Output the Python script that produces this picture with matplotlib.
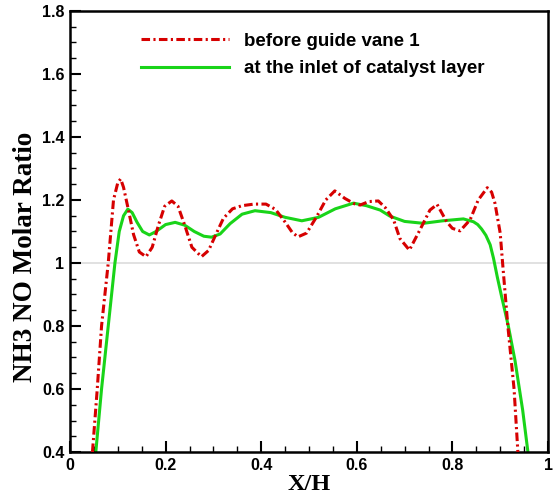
import matplotlib
matplotlib.use("Agg")
import matplotlib.pyplot as plt
from matplotlib.ticker import MultipleLocator, FormatStrFormatter

# values
x_before = [0.047, 0.057, 0.066, 0.080, 0.091, 0.100, 0.106, 0.112, 0.122, 0.133,
            0.145, 0.159, 0.172, 0.185, 0.198, 0.213, 0.226, 0.240, 0.255, 0.275,
            0.290, 0.305, 0.321, 0.340, 0.360, 0.385, 0.410, 0.430, 0.450, 0.465,
            0.477, 0.495, 0.516, 0.535, 0.554, 0.575, 0.595, 0.607, 0.625, 0.645,
            0.660, 0.677, 0.690, 0.710, 0.732, 0.753, 0.768, 0.788, 0.800, 0.816,
            0.837, 0.854, 0.873, 0.882, 0.889, 0.900, 0.905, 0.916, 0.929, 0.937]
y_before = [0.40, 0.60, 0.80, 1.00, 1.20, 1.255, 1.267, 1.24, 1.17, 1.09,
            1.035, 1.02, 1.05, 1.12, 1.18, 1.197, 1.18, 1.12, 1.05, 1.02,
            1.04, 1.09, 1.142, 1.172, 1.182, 1.187, 1.187, 1.17, 1.13, 1.097,
            1.083, 1.095, 1.147, 1.20, 1.229, 1.205, 1.188, 1.184, 1.195, 1.197,
            1.175, 1.137, 1.078, 1.041, 1.105, 1.168, 1.186, 1.131, 1.11, 1.102,
            1.137, 1.20, 1.239, 1.225, 1.19, 1.095, 1.00, 0.80, 0.60, 0.40]

x_inlet = [0.054, 0.066, 0.080, 0.094, 0.103, 0.112, 0.121, 0.130, 0.140, 0.152,
           0.166, 0.180, 0.200, 0.220, 0.240, 0.260, 0.280, 0.296, 0.314, 0.335,
           0.360, 0.387, 0.420, 0.450, 0.485, 0.520, 0.555, 0.593, 0.620, 0.649,
           0.669, 0.700, 0.739, 0.780, 0.823, 0.844, 0.853, 0.861, 0.870, 0.879,
           0.886, 0.894, 0.902, 0.917, 0.931, 0.947, 0.958]
y_inlet = [0.40, 0.60, 0.80, 1.00, 1.10, 1.15, 1.171, 1.16, 1.13, 1.10,
           1.089, 1.10, 1.122, 1.129, 1.12, 1.10, 1.085, 1.082, 1.092, 1.125,
           1.155, 1.166, 1.16, 1.145, 1.134, 1.145, 1.172, 1.19, 1.182, 1.168,
           1.149, 1.132, 1.126, 1.134, 1.14, 1.131, 1.122, 1.108, 1.088, 1.058,
           1.015, 0.955, 0.90, 0.80, 0.69, 0.533, 0.40]

label_before = "before guide vane 1"
label_inlet = "at the inlet of catalyst layer"

fig = plt.figure(figsize=(5.56, 4.97), dpi=100)
ax = fig.add_axes([70 / 556, 45 / 497, 478 / 556, 441 / 497])

ax.axhline(1.0, color="#dcdcdc", lw=1.2, zorder=1)

red, = ax.plot(x_before, y_before, color="#d60000", lw=2.2, label=label_before, zorder=3)
red.set_dashes((2.8, 1.1, 0.7, 1.1))
ax.plot(x_inlet, y_inlet, color="#19d419", lw=2.2, label=label_inlet, zorder=2)

ax.set_xlim(0, 1)
ax.set_ylim(0.4, 1.8)
ax.xaxis.set_major_locator(MultipleLocator(0.2))
ax.xaxis.set_minor_locator(MultipleLocator(0.05))
ax.yaxis.set_major_locator(MultipleLocator(0.2))
ax.yaxis.set_minor_locator(MultipleLocator(0.05))
ax.xaxis.set_major_formatter(FormatStrFormatter("%g"))
ax.yaxis.set_major_formatter(FormatStrFormatter("%g"))

ax.tick_params(which="both", direction="in", width=1.5, top=False, right=False)
ax.tick_params(which="major", length=8, pad=4)
ax.tick_params(which="minor", length=4, width=1.0)
for lab in ax.get_xticklabels() + ax.get_yticklabels():
    lab.set_family("Liberation Sans")
    lab.set_fontweight("bold")
    lab.set_fontsize(11.5)
for sp in ax.spines.values():
    sp.set_linewidth(1.8)

fig.text(309 / 556, 1 - 484 / 497, "X/H", family="Liberation Serif", weight="bold",
         fontsize=17.5, ha="center", va="center")
fig.text(26 / 556, 1 - 257 / 497, "NH3 NO Molar Ratio", family="Liberation Serif",
         weight="bold", fontsize=19.5, rotation=90, ha="center", va="center")

leg = ax.legend(loc="upper left", bbox_to_anchor=(0.113, 0.989), frameon=False,
                handlelength=4.7, handletextpad=0.8, labelspacing=0.55,
                prop={"family": "Liberation Sans", "weight": "bold", "size": 13.5})

fig.savefig("out.png", dpi=100)
